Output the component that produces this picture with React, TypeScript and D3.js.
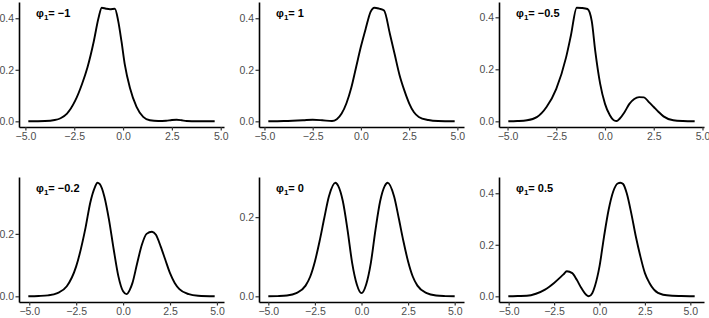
import React, { useEffect, useRef } from 'react';
import * as d3 from 'd3';

// panel titles: value of phi_1 in each density panel
const phiLabels = ['−1', '1', '−0.5', '−0.2', '0', '0.5'];
const xTicks = [-5, -2.5, 0, 2.5, 5];
const yTicks = [0, 0.2, 0.4];

// density estimates, one x/y pair per panel
const x1 = [-4.85, -4.0, -3.5, -3.2, -2.87, -2.45, -2.1, -1.82, -1.5, -1.26, -1.09, -0.87, -0.67, -0.42, -0.25, -0.08, 0.09, 0.35, 0.69, 1.03, 1.37, 1.8, 2.2, 2.5, 2.74, 3.0, 3.25, 3.8, 4.69];
const y1 = [0, 0.001, 0.005, 0.012, 0.03, 0.08, 0.145, 0.21, 0.31, 0.40, 0.441, 0.437, 0.435, 0.437, 0.39, 0.31, 0.22, 0.13, 0.056, 0.017, 0.004, 0.001, 0.002, 0.005, 0.006, 0.004, 0.001, 0, 0];

const x2 = [-4.8, -4.0, -3.0, -2.5, -2.0, -1.5, -1.25, -1.0, -0.75, -0.5, -0.25, 0, 0.25, 0.5, 0.7, 0.95, 1.2, 1.5, 1.75, 2.0, 2.25, 2.5, 2.75, 3.0, 3.5, 4.0, 4.86];
const y2 = [0, 0.001, 0.004, 0.006, 0.004, 0.001, 0.008, 0.03, 0.07, 0.13, 0.21, 0.29, 0.36, 0.425, 0.441, 0.437, 0.43, 0.34, 0.26, 0.18, 0.12, 0.07, 0.035, 0.017, 0.005, 0.001, 0];

const x3 = [-4.96, -4.5, -4.0, -3.5, -3.0, -2.5, -2.0, -1.75, -1.45, -1.2, -0.9, -0.68, -0.5, -0.25, 0, 0.25, 0.45, 0.6, 0.75, 1.0, 1.25, 1.5, 1.75, 2.0, 2.25, 2.5, 2.75, 3.0, 3.5, 4.0, 4.6];
const y3 = [0, 0.001, 0.004, 0.016, 0.055, 0.125, 0.245, 0.33, 0.437, 0.436, 0.432, 0.385, 0.27, 0.145, 0.067, 0.023, 0.004, 0.001, 0.01, 0.035, 0.067, 0.086, 0.093, 0.092, 0.074, 0.055, 0.036, 0.019, 0.004, 0.001, 0];

const x4 = [-5.05, -4.5, -4.0, -3.5, -3.0, -2.5, -2.0, -1.75, -1.5, -1.37, -1.25, -1.0, -0.75, -0.5, -0.25, 0, 0.18, 0.35, 0.5, 0.75, 1.0, 1.25, 1.54, 1.75, 2.0, 2.25, 2.5, 2.75, 3.0, 3.5, 4.0, 4.88];
const y4 = [0, 0.001, 0.003, 0.01, 0.032, 0.096, 0.22, 0.30, 0.35, 0.364, 0.36, 0.32, 0.245, 0.15, 0.064, 0.016, 0.007, 0.02, 0.043, 0.106, 0.165, 0.2, 0.207, 0.197, 0.16, 0.117, 0.074, 0.043, 0.023, 0.007, 0.002, 0];

const x5 = [-5.0, -4.5, -4.0, -3.5, -3.0, -2.75, -2.5, -2.25, -2.0, -1.75, -1.4, -1.25, -1.0, -0.75, -0.5, -0.25, 0, 0.25, 0.5, 0.75, 1.0, 1.25, 1.4, 1.75, 2.0, 2.25, 2.5, 2.75, 3.0, 3.5, 4.0, 4.5, 5.0];
const y5 = [0, 0.0005, 0.002, 0.008, 0.027, 0.05, 0.088, 0.139, 0.197, 0.252, 0.287, 0.279, 0.24, 0.168, 0.084, 0.03, 0.008, 0.03, 0.084, 0.168, 0.24, 0.279, 0.287, 0.252, 0.197, 0.139, 0.088, 0.05, 0.027, 0.008, 0.002, 0.0005, 0];

const x6 = [-5.02, -4.5, -4.0, -3.5, -3.0, -2.5, -2.0, -1.8, -1.5, -1.25, -1.0, -0.75, -0.59, -0.4, -0.25, 0, 0.25, 0.5, 0.75, 1.0, 1.15, 1.3, 1.5, 1.75, 2.0, 2.25, 2.5, 2.75, 3.0, 3.5, 4.0, 4.5, 5.24];
const y6 = [0, 0.001, 0.002, 0.01, 0.026, 0.052, 0.084, 0.097, 0.09, 0.064, 0.032, 0.007, 0.0, 0.012, 0.04, 0.116, 0.232, 0.335, 0.406, 0.438, 0.441, 0.436, 0.40, 0.322, 0.232, 0.155, 0.09, 0.052, 0.026, 0.006, 0.002, 0.001, 0];

const panelXs = [x1, x2, x3, x4, x5, x6];
const panelYs = [y1, y2, y3, y4, y5, y6];

function App() {
  const svgRef = useRef<SVGSVGElement>(null);

  useEffect(() => {
    const width = 709;
    const height = 318;
    const plotW = 205;
    const plotH = 125;
    const colStep = 240;
    const rowTop = [2, 177];
    const font = '"Liberation Sans", Arial, sans-serif';

    const svg = d3.select(svgRef.current);
    svg.selectAll('*').remove();
    svg.attr('width', width).attr('height', height);

    panelXs.forEach((xs, i) => {
      const ys = panelYs[i];
      const col = i % 3;
      const row = Math.floor(i / 3);
      const left = 19 + col * colStep;
      const top = rowTop[row];

      // ggplot-style 5% expansion on both axes
      const [xMin, xMax] = d3.extent(xs) as [number, number];
      const xPad = (xMax - xMin) * 0.05;
      const x = d3.scaleLinear().domain([xMin - xPad, xMax + xPad]).range([0, plotW]);
      const yMax = d3.max(ys) as number;
      const y = d3.scaleLinear().domain([-yMax * 0.05, yMax * 1.05]).range([plotH, 0]);

      const g = svg.append('g').attr('transform', `translate(${left},${top})`);

      const line = d3.line<number>()
        .x((d, j) => x(xs[j]))
        .y(d => y(d))
        .curve(d3.curveMonotoneX);

      g.append('path')
        .datum(ys)
        .attr('d', line)
        .attr('fill', 'none')
        .attr('stroke', '#000')
        .attr('stroke-width', 1.9)
        .attr('stroke-linejoin', 'round');

      // x axis
      const xAxis = g.append('g')
        .attr('transform', `translate(0,${plotH})`)
        .call(d3.axisBottom(x)
          .tickValues(xTicks.filter(t => t >= x.domain()[0] && t <= x.domain()[1]))
          .tickSize(3.5)
          .tickSizeOuter(0)
          .tickPadding(2.5)
          .tickFormat(d3.format('.1f')));

      // y axis
      const yAxis = g.append('g')
        .call(d3.axisLeft(y)
          .tickValues(yTicks.filter(t => t <= y.domain()[1]))
          .tickSize(3.5)
          .tickSizeOuter(0)
          .tickPadding(1.5)
          .tickFormat(d3.format('.1f')));

      [xAxis, yAxis].forEach(ax => {
        ax.select('.domain').attr('stroke', '#000').attr('stroke-width', 1.6);
        ax.selectAll('.tick line').attr('stroke', '#333').attr('stroke-width', 1.2);
        ax.selectAll('.tick text')
          .attr('fill', '#4d4d4d')
          .style('font-family', font)
          .style('font-size', '10.5px');
      });

      // panel label
      const label = g.append('text')
        .attr('x', 17)
        .attr('y', 15)
        .attr('fill', '#000')
        .style('font-family', font)
        .style('font-size', '11px')
        .style('font-weight', 'bold');
      label.append('tspan').text('φ');
      label.append('tspan').attr('dy', 2.5).style('font-size', '8px').text('1');
      label.append('tspan').attr('dy', -2.5).text(`= ${phiLabels[i]}`);
    });
  }, []);

  return (
    <svg ref={svgRef} style={{ position: 'absolute', left: 0, top: 0, background: '#fff' }}></svg>
  );
}

export default App;
